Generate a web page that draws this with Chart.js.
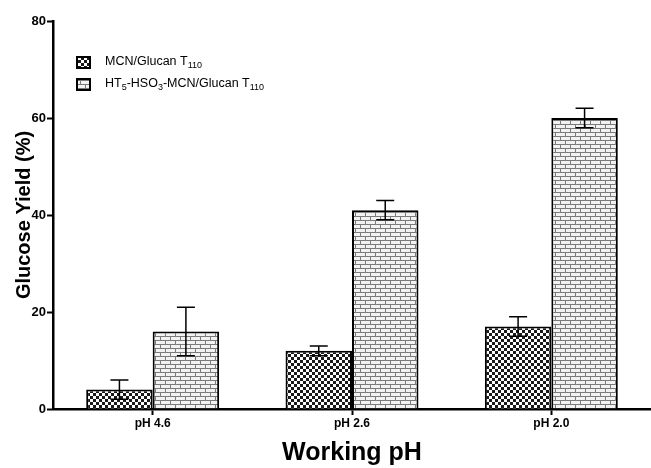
<!DOCTYPE html>
<html>
<head>
<meta charset="utf-8">
<script src="https://cdn.jsdelivr.net/npm/chart.js@4.4.1/dist/chart.umd.min.js"></script>
<style>
  html, body { margin: 0; padding: 0; background: #fff; }
  #wrap { width: 651px; height: 468px; }
</style>
</head>
<body>
<div id="wrap"><canvas id="chart"></canvas></div>
<script>
/* ======== DATA ======== */
const categories = ["pH 4.6", "pH 2.6", "pH 2.0"];
const mcnValues = [4, 12, 17];
const mcnErrors = [2, 1, 2];
const htValues = [16, 41, 60];
const htErrors = [5, 2, 2];
const seriesLabels = ["MCN/Glucan T_{110}", "HT_{5}-HSO_{3}-MCN/Glucan T_{110}"];
const yTicks = [0, 20, 40, 60, 80];

/* ======== PATTERNS ======== */
function checkerPattern(ctx) {
    const c = document.createElement("canvas");
    c.width = 6; c.height = 6;
    const g = c.getContext("2d");
    g.fillStyle = "#fff";
    g.fillRect(0, 0, 6, 6);
    g.fillStyle = "#1a1a1a";
    g.fillRect(0, 0, 3, 3);
    g.fillRect(3, 3, 3, 3);
    return ctx.createPattern(c, "repeat");
}

function brickPattern(ctx) {
    const c = document.createElement("canvas");
    c.width = 10; c.height = 8;
    const g = c.getContext("2d");
    g.fillStyle = "#f2f2f2";
    g.fillRect(0, 0, 10, 8);
    g.fillStyle = "#7a7a7a";
    g.fillRect(0, 0, 10, 1);
    g.fillRect(0, 4, 10, 1);
    g.fillRect(0, 0, 1, 4);
    g.fillRect(5, 4, 1, 4);
    return ctx.createPattern(c, "repeat");
}

const ctx = document.getElementById("chart").getContext("2d");
const mcnFill = checkerPattern(ctx);
const htFill = brickPattern(ctx);

/* ======== HELPERS ======== */
// draws text with _{...} parts as subscripts
function drawRich(g, text, x, y, size) {
    const parts = text.split(/(_\{[^}]*\})/);
    let cx = x;
    parts.forEach((p) => {
        if (!p) return;
        if (p.startsWith("_{")) {
            const s = p.slice(2, -1);
            g.font = Math.round(size * 0.75) + "px 'Liberation Sans', Arial, sans-serif";
            g.fillText(s, cx, y + size * 0.3);
            cx += g.measureText(s).width;
        } else {
            g.font = size + "px 'Liberation Sans', Arial, sans-serif";
            g.fillText(p, cx, y);
            cx += g.measureText(p).width;
        }
    });
    return cx - x;
}

/* ======== PLUGINS ======== */
const errorBars = {
    id: "errorBars",
    afterDatasetsDraw(chart) {
        const g = chart.ctx;
        const yScale = chart.scales.y;
        g.save();
        g.strokeStyle = "#000";
        g.lineWidth = 1.5;
        chart.data.datasets.forEach((ds, di) => {
            const meta = chart.getDatasetMeta(di);
            meta.data.forEach((bar, i) => {
                const v = ds.data[i];
                const e = ds.errors[i];
                const top = yScale.getPixelForValue(v + e);
                const bot = yScale.getPixelForValue(v - e);
                const half = 9;
                g.beginPath();
                g.moveTo(bar.x, top);
                g.lineTo(bar.x, bot);
                g.moveTo(bar.x - half, top);
                g.lineTo(bar.x + half, top);
                g.moveTo(bar.x - half, bot);
                g.lineTo(bar.x + half, bot);
                g.stroke();
            });
        });
        g.restore();
    }
};

const subLegend = {
    id: "subLegend",
    afterDraw(chart) {
        const g = chart.ctx;
        g.save();
        g.textBaseline = "middle";
        chart.data.datasets.forEach((ds, i) => {
            const bx = 77, by = 57 + i * 22;
            g.fillStyle = ds.backgroundColor;
            g.fillRect(bx, by, 13, 11);
            g.strokeStyle = "#000";
            g.lineWidth = 2;
            g.strokeRect(bx, by, 13, 11);
            g.fillStyle = "#000";
            drawRich(g, seriesLabels[i], 105, by + 5, 12.5);
        });
        g.restore();
    }
};

/* ======== CHART ======== */
new Chart(ctx, {
    type: "bar",
    data: {
        labels: categories,
        datasets: [{
            label: "MCN/Glucan T110",
            data: mcnValues,
            errors: mcnErrors,
            backgroundColor: mcnFill,
            borderColor: "#000",
            borderWidth: 2
        }, {
            label: "HT5-HSO3-MCN/Glucan T110",
            data: htValues,
            errors: htErrors,
            backgroundColor: htFill,
            borderColor: "#000",
            borderWidth: 2
        }]
    },
    options: {
        responsive: true,
        maintainAspectRatio: false,
        animation: false,
        layout: { padding: { top: 21, right: 0, left: 0, bottom: 0 } },
        datasets: {
            bar: { categoryPercentage: 0.667, barPercentage: 1 }
        },
        plugins: {
            legend: { display: false },
            tooltip: { enabled: false }
        },
        scales: {
            x: {
                grid: { display: true, drawOnChartArea: false, offset: false, tickLength: 6, tickWidth: 2, color: "#000" },
                border: { display: true, color: "#000", width: 2.5 },
                ticks: {
                    color: "#000",
                    padding: 1,
                    font: { family: "'Liberation Sans', Arial, sans-serif", size: 12, weight: "bold" }
                },
                title: {
                    display: true,
                    text: "Working pH",
                    color: "#000",
                    padding: { top: 4, bottom: 0 },
                    font: { family: "'Liberation Sans', Arial, sans-serif", size: 25, weight: "bold" }
                },
                afterFit(scale) { scale.height = 59; }
            },
            y: {
                min: 0,
                max: 80,
                afterBuildTicks(scale) { scale.ticks = yTicks.map((v) => ({ value: v })); },
                grid: { display: true, drawOnChartArea: false, tickLength: 6, tickWidth: 2, color: "#000" },
                border: { display: true, color: "#000", width: 2.5 },
                ticks: {
                    color: "#000",
                    padding: 1,
                    font: { family: "'Liberation Sans', Arial, sans-serif", size: 13, weight: "bold" }
                },
                title: {
                    display: true,
                    text: "Glucose Yield (%)",
                    color: "#000",
                    padding: { top: 12, bottom: 0 },
                    font: { family: "'Liberation Sans', Arial, sans-serif", size: 20, weight: "bold" }
                },
                afterFit(scale) { scale.width = 53; }
            }
        }
    },
    plugins: [errorBars, subLegend]
});
</script>
</body>
</html>
